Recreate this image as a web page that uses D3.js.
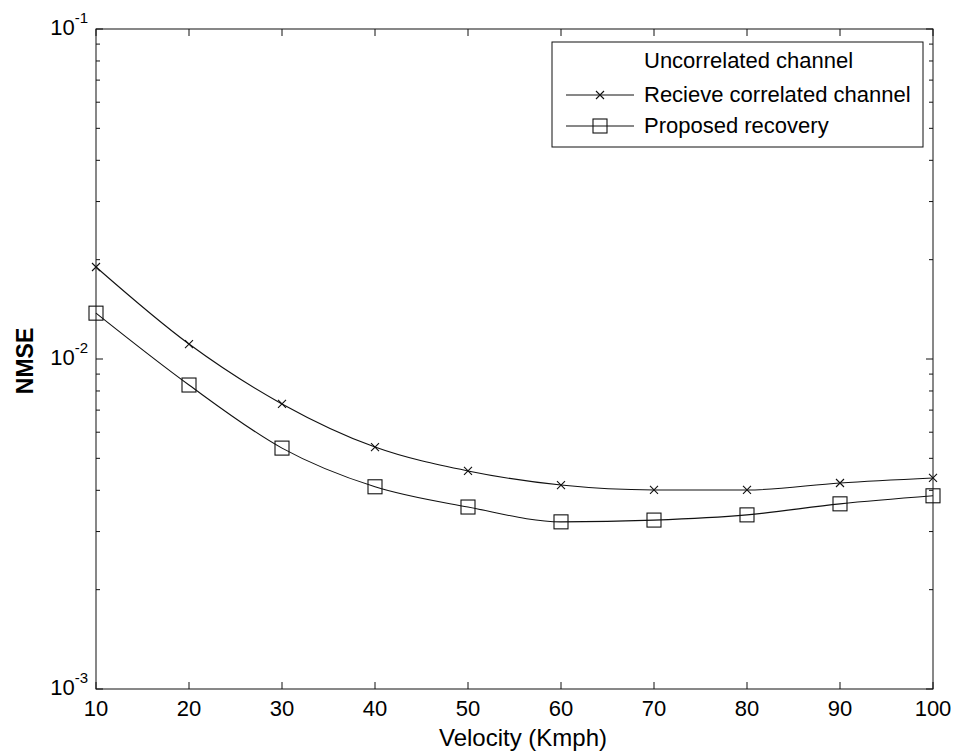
<!DOCTYPE html>
<html>
<head>
<meta charset="utf-8">
<script src="https://cdn.jsdelivr.net/npm/d3@7"></script>
<style>
  body { margin: 0; background: #fff; }
  svg { font-family: "Liberation Sans", Arial, sans-serif; }
</style>
</head>
<body>
<svg id="chart" width="958" height="751"></svg>
<script>
// values
const velocity = [10, 20, 30, 40, 50, 60, 70, 80, 90, 100];
const recvCorr = [0.0190, 0.0111, 0.00731, 0.00541, 0.00458, 0.00415, 0.00401, 0.00401, 0.00421, 0.00436];
const proposed = [0.01377, 0.00834, 0.00537, 0.00410, 0.00356, 0.00321, 0.00325, 0.00337, 0.00364, 0.00385];
const xTicks = [10, 20, 30, 40, 50, 60, 70, 80, 90, 100];
const yTickExps = [-3, -2, -1];
const legendLabels = ["Uncorrelated channel", "Recieve correlated channel", "Proposed recovery"];

const margin = {top: 29, right: 25, bottom: 62, left: 96};
const W = 958, H = 751;
const width = W - margin.left - margin.right,
    height = H - margin.top - margin.bottom;

const svg = d3.select("#chart");
const g = svg.append("g").attr("transform", "translate(" + margin.left + "," + margin.top + ")");

const x = d3.scaleLinear().domain([10, 100]).range([0, width]);
const y = d3.scaleLog().domain([1e-3, 1e-1]).range([height, 0]);

// minor log ticks
const minor = [];
[-3, -2].forEach(function(e) {
    for (let k = 2; k <= 9; k++) minor.push(k * Math.pow(10, e));
});

// box
g.append("rect").attr("width", width).attr("height", height)
    .attr("fill", "none").attr("stroke", "#111").attr("stroke-width", 1);

// x ticks (bottom + top, inward)
xTicks.forEach(function(t) {
    g.append("line").attr("x1", x(t)).attr("x2", x(t)).attr("y1", height).attr("y2", height - 7)
        .attr("stroke", "#111");
    g.append("line").attr("x1", x(t)).attr("x2", x(t)).attr("y1", 0).attr("y2", 7)
        .attr("stroke", "#111");
    g.append("text").attr("x", x(t)).attr("y", height + 27)
        .attr("text-anchor", "middle").attr("font-size", 22)
        .text(t);
});

// y ticks
yTickExps.forEach(function(e) {
    const v = Math.pow(10, e);
    g.append("line").attr("x1", 0).attr("x2", 7).attr("y1", y(v)).attr("y2", y(v)).attr("stroke", "#111");
    g.append("line").attr("x1", width).attr("x2", width - 7).attr("y1", y(v)).attr("y2", y(v)).attr("stroke", "#111");
    const t = g.append("text").attr("x", -8).attr("y", y(v) + 6)
        .attr("text-anchor", "end").attr("font-size", 22);
    t.append("tspan").text("10");
    t.append("tspan").attr("dy", -12).attr("font-size", 15).text(e);
});
minor.forEach(function(v) {
    g.append("line").attr("x1", 0).attr("x2", 4).attr("y1", y(v)).attr("y2", y(v)).attr("stroke", "#111");
    g.append("line").attr("x1", width).attr("x2", width - 4).attr("y1", y(v)).attr("y2", y(v)).attr("stroke", "#111");
});

// lines
const line = d3.line().curve(d3.curveMonotoneX)
    .x(function(d, i) { return x(velocity[i]); })
    .y(function(d) { return y(d); });

g.append("path").datum(recvCorr).attr("d", line)
    .attr("fill", "none").attr("stroke", "#111").attr("stroke-width", 1.1);
g.append("path").datum(proposed).attr("d", line)
    .attr("fill", "none").attr("stroke", "#111").attr("stroke-width", 1.1);

function cross(sel, cx, cy, s) {
    sel.append("path")
        .attr("d", "M" + (cx - s) + "," + (cy - s) + "L" + (cx + s) + "," + (cy + s) +
            "M" + (cx - s) + "," + (cy + s) + "L" + (cx + s) + "," + (cy - s))
        .attr("stroke", "#111").attr("stroke-width", 1.1).attr("fill", "none");
}
function square(sel, cx, cy, s) {
    sel.append("rect").attr("x", cx - s).attr("y", cy - s).attr("width", 2 * s).attr("height", 2 * s)
        .attr("fill", "none").attr("stroke", "#111").attr("stroke-width", 1.1);
}

recvCorr.forEach(function(d, i) { cross(g, x(velocity[i]), y(d), 4); });
proposed.forEach(function(d, i) { square(g, x(velocity[i]), y(d), 7); });

// legend
const lg = svg.append("g");
lg.append("rect").attr("x", 552).attr("y", 42).attr("width", 371).attr("height", 105)
    .attr("fill", "#fff").attr("stroke", "#111").attr("stroke-width", 1);
const rowY = [61, 95, 126];
legendLabels.forEach(function(lbl, i) {
    lg.append("text").attr("x", 644).attr("y", rowY[i] + 7).attr("font-size", 22).text(lbl);
});
lg.append("line").attr("x1", 566).attr("x2", 634).attr("y1", rowY[1]).attr("y2", rowY[1]).attr("stroke", "#111");
cross(lg, 600, rowY[1], 4);
lg.append("line").attr("x1", 566).attr("x2", 634).attr("y1", rowY[2]).attr("y2", rowY[2]).attr("stroke", "#111");
square(lg, 600, rowY[2], 7);

// axis labels
svg.append("text").attr("x", 523).attr("y", 746)
    .attr("text-anchor", "middle").attr("font-size", 24).text("Velocity (Kmph)");
svg.append("text").attr("transform", "translate(33,361) rotate(-90)")
    .attr("text-anchor", "middle").attr("font-size", 23).attr("font-weight", "bold").text("NMSE");
</script>
</body>
</html>
